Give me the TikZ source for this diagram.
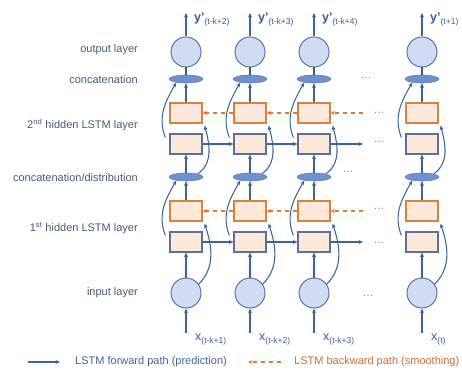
\documentclass[tikz,border=0pt]{standalone}
\usepackage{fontspec}
\setmainfont{Liberation Sans}
\usetikzlibrary{arrows.meta,shapes.geometric}
\definecolor{arrblue}{HTML}{3C62A6}
\definecolor{circf}{HTML}{D0DCF1}
\definecolor{circb}{HTML}{5874AA}
\definecolor{ellf}{HTML}{6F91CF}
\definecolor{ellb}{HTML}{5F82C4}
\definecolor{boxf}{HTML}{FCE9DC}
\definecolor{oranb}{HTML}{D8823F}
\definecolor{boxb}{HTML}{5A6F99}
\definecolor{dashor}{HTML}{E07B30}
\definecolor{labc}{HTML}{4A5A75}
\definecolor{lblc}{HTML}{3A5A9A}
\definecolor{dotc}{HTML}{7F90B0}
\definecolor{outl}{HTML}{555555}
\definecolor{legf}{HTML}{44639A}
\definecolor{legb}{HTML}{C8702F}
\begin{document}
\begin{tikzpicture}[x=1pt,y=1pt,
  circ/.style={circle,draw=circb,fill=circf,line width=1pt,minimum size=30pt,inner sep=0pt},
  ell/.style={ellipse,draw=ellb,fill=ellf,line width=0.6pt,minimum width=34pt,minimum height=8pt,inner sep=0pt},
  obox/.style={rectangle,draw=oranb,fill=boxf,line width=1.2pt,minimum width=32pt,minimum height=20pt,inner sep=0pt},
  bbox/.style={rectangle,draw=boxb,fill=boxf,line width=1.2pt,minimum width=32pt,minimum height=20pt,inner sep=0pt},
  fwd/.style={draw=arrblue,line width=1.05pt,-{Stealth[length=4.5pt,width=4pt]}},
  bwd/.style={draw=dashor,line width=1.15pt,dash pattern=on 4.5pt off 3.5pt,-{Stealth[length=4.5pt,width=4pt]}},
  lay/.style={anchor=east,text=labc,font=\fontsize{11}{13}\selectfont,inner sep=0pt},
  dotsty/.style={text=dotc,font=\fontsize{11}{11}\selectfont,inner sep=0pt},
  outline/.style={draw=outl,line width=1.3pt}
]
\useasboundingbox (0,0) rectangle (462,372);
% layer labels
\node[lay] (l1) at (138,322) {output layer};
\node[lay] (l2) at (138,292) {concatenation};
\node[lay] (l3) at (138,247) {2\textsuperscript{nd} hidden LSTM layer};
\node[lay] (l4) at (138,194) {concatenation/distribution};
\node[lay] (l5) at (138,144) {1\textsuperscript{st} hidden LSTM layer};
\node[lay] (l6) at (138,79) {input layer};
% columns
\foreach \i/\x/\ys/\xs in {1/186/(t-k+2)/(t-k+1),2/250/(t-k+3)/(t-k+2),3/314/(t-k+4)/(t-k+3),4/422/(t+1)/(t)}{
  \node[circ] (out\i) at (\x,320) {};
  \node[ell]  (ce\i)  at (\x,293) {};
  \node[obox] (ou\i)  at (\x,259) {};
  \node[bbox] (bu\i)  at (\x,228) {};
  \node[ell]  (cd\i)  at (\x,195) {};
  \node[obox] (ol\i)  at (\x,161) {};
  \node[bbox] (bl\i)  at (\x,130) {};
  \node[circ] (in\i)  at (\x,79) {};
  \coordinate (yt\i) at (\x,359);
  \coordinate (xb\i) at (\x,39);
  \node[anchor=base west,inner sep=0pt,text=lblc] (yl\i) at (\x+8,350)
    {\fontsize{12.5}{12}\selectfont\bfseries y’\raisebox{-3pt}{\fontsize{8.5}{8}\selectfont\mdseries\ys}};
  \node[anchor=base west,inner sep=0pt,text=lblc] (xl\i) at (\x+9,32)
    {\fontsize{12.5}{12}\selectfont x\raisebox{-3pt}{\fontsize{8.5}{8}\selectfont\xs}};
  % vertical connectors
  \draw[fwd] (out\i.north) -- (yt\i);
  \draw[outline] (ce\i.north) -- (out\i.south);
  \draw[fwd] (ou\i.north) -- (ce\i.south);
  \draw[fwd] (cd\i.north) -- (bu\i.south);
  \draw[fwd] (ol\i.north) -- (cd\i.south);
  \draw[fwd] (in\i.north) -- (bl\i.south);
  \draw[fwd] (xb\i) -- (in\i.south);
  % curved connectors
  \draw[fwd] ([xshift=-4pt,yshift=-4pt]bu\i.north west) to[out=112,in=-120] (ce\i.200);
  \draw[fwd] ([xshift=-4pt,yshift=-4pt]bl\i.north west) to[out=112,in=-120] (cd\i.200);
  \draw[fwd] (cd\i.15) to[out=35,in=-75] ([xshift=2pt,yshift=-2pt]ou\i.south east);
  \draw[fwd] (in\i.35) to[out=45,in=-72] ([xshift=2pt,yshift=-2pt]ol\i.south east);
}
% horizontal paths
\coordinate (fu) at (363,228);
\coordinate (fl) at (363,130);
\coordinate (bu) at (363,259);
\coordinate (bl) at (363,161);
\draw[fwd] (bu1.east) -- (bu2.west);
\draw[fwd] (bu2.east) -- (bu3.west);
\draw[fwd] (bu3.east) -- (fu);
\draw[fwd] (bl1.east) -- (bl2.west);
\draw[fwd] (bl2.east) -- (bl3.west);
\draw[fwd] (bl3.east) -- (fl);
\draw[bwd] (ou2.west) -- (ou1.east);
\draw[bwd] (ou3.west) -- (ou2.east);
\draw[bwd] (bu) -- (ou3.east);
\draw[bwd] (ol2.west) -- (ol1.east);
\draw[bwd] (ol3.west) -- (ol2.east);
\draw[bwd] (bl) -- (ol3.east);
% dots
\node[dotsty] (d1) at (366,294) {…};
\node[dotsty] (d2) at (379,259) {…};
\node[dotsty] (d3) at (379,230) {…};
\node[dotsty] (d4) at (348,200) {…};
\node[dotsty] (d5) at (379,163) {…};
\node[dotsty] (d6) at (379,129) {…};
\node[dotsty] (d7) at (368,76) {…};
% legend
\coordinate (lf1) at (28,10);
\coordinate (lf2) at (60,10);
\coordinate (lb1) at (281,10);
\coordinate (lb2) at (248,10);
\draw[fwd] (lf1) -- (lf2);
\draw[bwd] (lb1) -- (lb2);
\node[anchor=west,inner sep=0pt,text=legf,font=\fontsize{11}{13}\selectfont] (tf) at (75,10) {LSTM forward path (prediction)};
\node[anchor=west,inner sep=0pt,text=legb,font=\fontsize{11}{13}\selectfont] (tb) at (294,10) {LSTM backward path (smoothing)};
\end{tikzpicture}
\end{document}
